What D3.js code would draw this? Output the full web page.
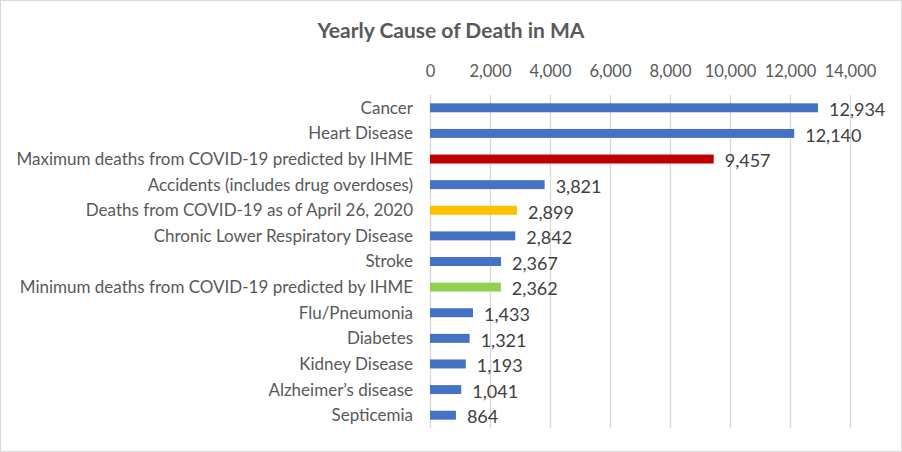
<!DOCTYPE html>
<html>
<head>
<meta charset="utf-8">
<script src="https://cdn.jsdelivr.net/npm/d3@7"></script>
<style>
  body { margin: 0; background: #fff; }
  svg { display: block; }
</style>
</head>
<body>
<div id="chart"></div>
<script>
// chart data
var causes = [
    "Cancer",
    "Heart Disease",
    "Maximum deaths from COVID-19 predicted by IHME",
    "Accidents (includes drug overdoses)",
    "Deaths from COVID-19 as of April 26, 2020",
    "Chronic Lower Respiratory Disease",
    "Stroke",
    "Minimum deaths from COVID-19 predicted by IHME",
    "Flu/Pneumonia",
    "Diabetes",
    "Kidney Disease",
    "Alzheimer\u2019s disease",
    "Septicemia"
];
var deaths = [12934, 12140, 9457, 3821, 2899, 2842, 2367, 2362, 1433, 1321, 1193, 1041, 864];
var barColors = ["#4472C4", "#4472C4", "#C00000", "#4472C4", "#FFC000", "#4472C4", "#4472C4",
                 "#92D050", "#4472C4", "#4472C4", "#4472C4", "#4472C4", "#4472C4"];
var tickValues = [0, 2000, 4000, 6000, 8000, 10000, 12000, 14000];

// svg container
var svgWidth = 902;
var svgHeight = 452;

var plot = { left: 430, right: 850, top: 95, bottom: 428 };

var svg = d3.select("#chart")
    .append("svg")
    .attr("width", svgWidth)
    .attr("height", svgHeight);

// outer border
svg.append("rect")
    .attr("x", 0.5).attr("y", 0.5)
    .attr("width", svgWidth - 1).attr("height", svgHeight - 1)
    .attr("fill", "#fff")
    .attr("stroke", "#d9d9d9");

// title
svg.append("text")
    .attr("x", 451)
    .attr("y", 38)
    .attr("text-anchor", "middle")
    .style("font-family", "Lato")
    .style("font-weight", "700")
    .style("font-size", "21px")
    .style("fill", "#595959")
    .text("Yearly Cause of Death in MA");

// scales
var xScale = d3.scaleLinear()
    .domain([0, 14000])
    .range([plot.left, plot.right]);

var yScale = d3.scaleBand()
    .domain(causes)
    .range([plot.top, plot.bottom])
    .paddingInner(0.65)
    .paddingOuter(0.325);

// top axis with gridlines
var xAxis = d3.axisTop(xScale)
    .tickValues(tickValues)
    .tickFormat(d3.format(","))
    .tickSize(-(plot.bottom - plot.top))
    .tickPadding(18);

var axisGroup = svg.append("g")
    .attr("transform", `translate(0, ${plot.top})`)
    .call(xAxis);

axisGroup.select(".domain").remove();
axisGroup.selectAll(".tick line")
    .attr("stroke", "#d9d9d9")
    .attr("stroke-width", 1.3);
axisGroup.selectAll(".tick text")
    .style("font-family", "Lato")
    .style("font-size", "16.5px")
    .style("fill", "#595959");

// category labels
svg.append("g")
    .selectAll("text")
    .data(causes)
    .enter()
    .append("text")
    .attr("x", 413)
    .attr("y", d => yScale(d) + yScale.bandwidth() / 2)
    .attr("dy", "0.35em")
    .attr("text-anchor", "end")
    .style("font-family", "Lato")
    .style("font-size", "17px")
    .style("fill", "#595959")
    .text(d => d);

// bars
svg.append("g")
    .selectAll("rect")
    .data(deaths)
    .enter()
    .append("rect")
    .attr("x", xScale(0))
    .attr("y", (d, i) => yScale(causes[i]))
    .attr("width", d => xScale(d) - xScale(0))
    .attr("height", yScale.bandwidth())
    .attr("fill", (d, i) => barColors[i]);

// value labels
svg.append("g")
    .selectAll("text")
    .data(deaths)
    .enter()
    .append("text")
    .attr("x", d => xScale(d) + 11)
    .attr("y", (d, i) => yScale(causes[i]) + yScale.bandwidth() / 2 + 2)
    .attr("dy", "0.35em")
    .style("font-family", "Lato")
    .style("font-size", "18px")
    .style("fill", "#404040")
    .text(d => d3.format(",")(d));
</script>
</body>
</html>
